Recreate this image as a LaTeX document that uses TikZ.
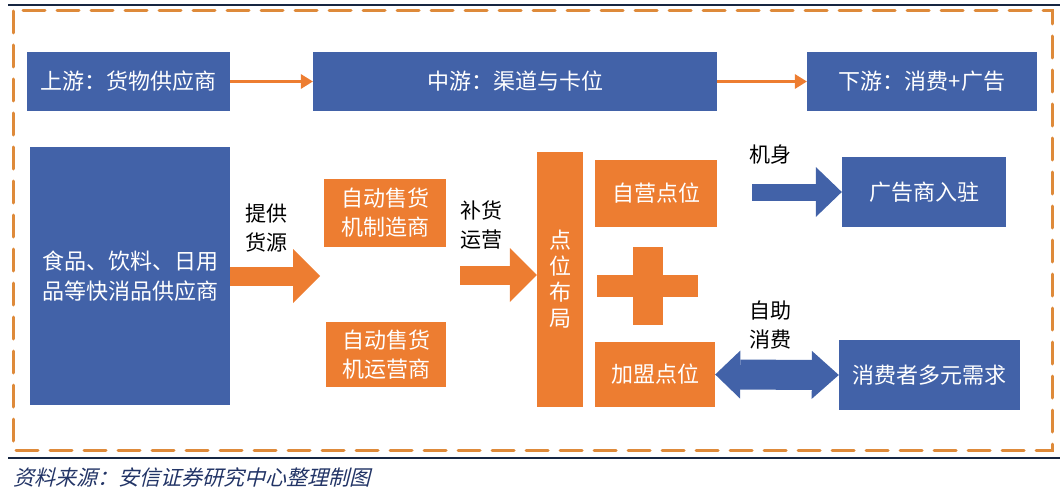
\documentclass[tikz,border=0pt]{standalone}
\usepackage{fontspec}
\setmainfont{Noto Sans CJK SC}
\newfontfamily\capfont[FakeSlant=0.25]{Noto Sans CJK SC}
\usetikzlibrary{arrows.meta}
\usetikzlibrary{positioning}
\definecolor{custom-blue}{RGB}{66, 98, 168}
\definecolor{custom-orange}{RGB}{237, 125, 49}
\definecolor{custom-dash}{RGB}{222, 138, 58}
\definecolor{custom-navy}{RGB}{22, 38, 66}
\definecolor{custom-cap}{RGB}{34, 52, 102}
\tikzset{
  bluebox/.style={fill=custom-blue, text=white, inner sep=0pt, align=center, font=\fontsize{22}{30}\selectfont},
  orangebox/.style={fill=custom-orange, text=white, inner sep=0pt, align=center, font=\fontsize{22}{29}\selectfont},
  sidelabel/.style={text=black, align=center, font=\fontsize{21}{29}\selectfont},
  thinarrow/.style={draw=custom-orange, line width=3pt, -{Triangle[length=12pt, width=15pt, line width=0pt]}},
  fatorange/.style={draw=custom-orange, line width=19pt, -{Triangle[length=27pt, width=54pt, line width=0pt]}}
}

\begin{document}
\begin{tikzpicture}[x=1pt, y=-1pt]
\useasboundingbox (0,0) rectangle (1064,500);

% frame
\draw[custom-navy, line width=2.5pt] (8,5) -- (1060,5);
\draw[custom-navy, line width=2.5pt] (8,458) -- (1060,458);
\draw[custom-dash, line width=3pt, line cap=round, dash pattern=on 22pt off 12pt] (13,11) rectangle (1052,450);

% top row
\node[bluebox, minimum width=203pt, minimum height=59pt] (up) at (128.5,81.5) {上游：货物供应商};
\node[bluebox, minimum width=404pt, minimum height=59pt] (mid) at (515,81.5) {中游：渠道与卡位};
\node[bluebox, minimum width=230pt, minimum height=59pt] (down) at (922,81.5) {下游：消费+广告};
\draw[thinarrow] (up.east) -- (mid.west);
\draw[thinarrow] (mid.east) -- (down.west);

% supply side
\node[bluebox, minimum width=200pt, minimum height=258pt] (supplier) at (130,276) {食品、饮料、日用\\品等快消品供应商};
\node[orangebox, minimum width=122pt, minimum height=68pt] (maker) at (385,213) {自动售货\\机制造商};
\node[orangebox, minimum width=120pt, minimum height=65pt] (operator) at (386,354.5) {自动售货\\机运营商};
\node[orangebox, minimum width=46pt, minimum height=255pt, font=\fontsize{22}{26}\selectfont] (layout) at (560,279.5) {点\\位\\布\\局};

\coordinate (supplytip) at (320,276);
\draw[fatorange] (supplier.east) -- (supplytip);
\node[sidelabel] (supplylabel) at (266,228) {提供\\货源};

\coordinate (refill) at (460,275);
\draw[fatorange] (refill) -- (layout.west |- refill);
\node[sidelabel] (refilllabel) at (481,225) {补货\\运营};

% sites
\node[orangebox, minimum width=122pt, minimum height=67pt] (self) at (656,193.5) {自营点位};
\node[orangebox, minimum width=120pt, minimum height=65pt] (join) at (655,374.5) {加盟点位};
\fill[custom-orange] (597,275) rectangle (698,297);
\fill[custom-orange] (633,247) rectangle (663,325);

% demand side
\node[bluebox, minimum width=164pt, minimum height=70pt] (ad) at (924,192) {广告商入驻};
\node[bluebox, minimum width=181pt, minimum height=70pt] (need) at (929.5,375) {消费者多元需求};

\coordinate (body) at (752,192);
\draw[draw=custom-blue, line width=17pt, -{Triangle[length=26pt, width=50pt, line width=0pt]}] (body) -- (ad.west);
\node[sidelabel] (bodylabel) at (770,155) {机身};

\draw[draw=custom-blue, line width=30pt, {Triangle[length=25pt, width=48pt, line width=0pt]}-{Triangle[length=27pt, width=48pt, line width=0pt]}] (join.east) -- (need.west);
\node[sidelabel] (selflabel) at (770,325) {自助\\消费};

% source
\node[anchor=west, text=custom-cap, font=\capfont\fontsize{21}{24}\selectfont] (source) at (10,477) {资料来源：安信证券研究中心整理制图};

\end{tikzpicture}
\end{document}
